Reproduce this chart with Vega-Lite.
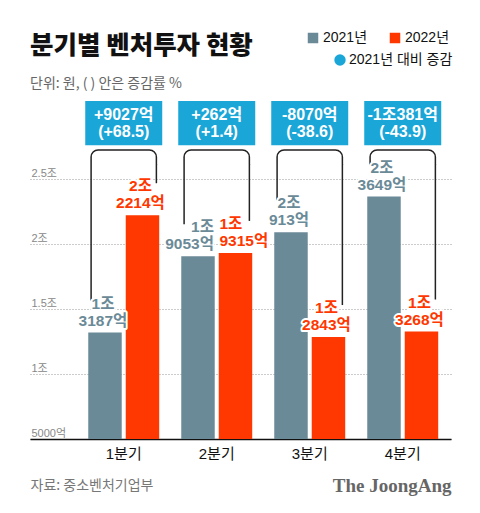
{
  "$schema": "https://vega.github.io/schema/vega-lite/v6.json",
  "width": 421,
  "height": 338,
  "autosize": "none",
  "padding": {"left": 30, "top": 101, "right": 29, "bottom": 74},
  "background": "white",
  "title": {
    "text": "분기별 벤처투자 현황",
    "subtitle": "단위: 원, ( ) 안은 증감률 %",
    "anchor": "start",
    "frame": "group",
    "font": "Noto Sans CJK KR",
    "fontSize": 25.5,
    "fontWeight": 900,
    "color": "#111111",
    "subtitleFont": "Noto Sans CJK KR",
    "subtitleFontSize": 14,
    "subtitleColor": "#666666",
    "subtitlePadding": 18,
    "offset": -60
  },
  "config": {
    "view": {"stroke": null},
    "font": "Liberation Sans, Noto Sans CJK KR"
  },
  "datasets": {
    "bars": [
      {"quarter": "1분기", "year": "2021년", "value": 13187, "label": "1조\n3187억"},
      {"quarter": "1분기", "year": "2022년", "value": 22214, "label": "2조\n2214억"},
      {"quarter": "2분기", "year": "2021년", "value": 19053, "label": "1조\n9053억"},
      {"quarter": "2분기", "year": "2022년", "value": 19315, "label": "1조\n9315억"},
      {"quarter": "3분기", "year": "2021년", "value": 20913, "label": "2조\n913억"},
      {"quarter": "3분기", "year": "2022년", "value": 12843, "label": "1조\n2843억"},
      {"quarter": "4분기", "year": "2021년", "value": 23649, "label": "2조\n3649억"},
      {"quarter": "4분기", "year": "2022년", "value": 13268, "label": "1조\n3268억"}
    ],
    "changes": [
      {"quarter": "1분기", "kind": "2021년 대비 증감", "change": "+9027억\n(+68.5)"},
      {"quarter": "2분기", "kind": "2021년 대비 증감", "change": "+262억\n(+1.4)"},
      {"quarter": "3분기", "kind": "2021년 대비 증감", "change": "-8070억\n(-38.6)"},
      {"quarter": "4분기", "kind": "2021년 대비 증감", "change": "-1조381억\n(-43.9)"}
    ]
  },
  "layer": [
    {
      "data": {"name": "bars"},
      "mark": {"type": "bar"},
      "encoding": {
        "x": {
          "field": "quarter",
          "type": "nominal",
          "sort": ["1분기", "2분기", "3분기", "4분기"],
          "scale": {"paddingInner": 0.237, "paddingOuter": 0.382, "align": 0.82},
          "axis": {
            "title": "자료: 중소벤처기업부",
            "titleFont": "Noto Sans CJK KR",
            "titleFontSize": 14,
            "titleFontWeight": "normal",
            "titleColor": "#777777",
            "titleAnchor": "start",
            "titleAlign": "left",
            "titleBaseline": "middle",
            "titleX": 0,
            "titleY": 46,
            "labelAngle": 0,
            "labelFontSize": 15,
            "labelColor": "#111111",
            "labelPadding": 7,
            "ticks": false,
            "domainColor": "#111111",
            "domainWidth": 1.5,
            "grid": false
          }
        },
        "xOffset": {
          "field": "year",
          "type": "nominal",
          "scale": {"paddingInner": 0.107, "paddingOuter": 0}
        },
        "y": {
          "field": "value",
          "type": "quantitative",
          "scale": {"domain": [5000, 31000], "nice": false, "zero": false},
          "axis": {
            "values": [5000, 10000, 15000, 20000, 25000],
            "labelExpr": "datum.value == 5000 ? '5000억' : (datum.value / 10000) + '조'",
            "labelAlign": "left",
            "labelBaseline": "alphabetic",
            "labelOffset": -3,
            "labelPadding": -1,
            "labelFontSize": 11,
            "labelColor": "#888888",
            "tickSize": 0,
            "ticks": false,
            "domain": false,
            "grid": true,
            "gridDash": [1, 2],
            "gridColor": "#999999",
            "title": "The JoongAng",
            "titleFont": "Liberation Serif",
            "titleFontSize": 19,
            "titleFontWeight": "bold",
            "titleColor": "#666666",
            "titleAngle": 0,
            "titleAlign": "right",
            "titleBaseline": "middle",
            "titleX": 421,
            "titleY": 384
          }
        },
        "y2": {"datum": 5000, "type": "quantitative"},
        "color": {
          "field": "year",
          "type": "nominal",
          "scale": {"domain": ["2021년", "2022년"], "range": ["#6b8a97", "#ff3700"]},
          "legend": {
            "title": null,
            "orient": "none",
            "direction": "horizontal",
            "legendX": 276,
            "legendY": -70,
            "symbolType": "square",
            "symbolSize": 110,
            "symbolStrokeWidth": 0,
            "labelFontSize": 14,
            "labelColor": "#111111",
            "labelOffset": 3,
            "columnPadding": 20,
            "padding": 0
          }
        }
      }
    },
    {
      "data": {"name": "changes"},
      "mark": {
        "type": "bar",
        "fillOpacity": 0,
        "stroke": "#222222",
        "strokeWidth": 1.5,
        "cornerRadiusTopLeft": 7,
        "cornerRadiusTopRight": 7,
        "strokeDash": [69.3, 65.3, 19, 1],
        "width": {"band": 0.92}
      },
      "encoding": {
        "x": {"field": "quarter", "type": "nominal"},
        "y": {"datum": 27230, "type": "quantitative"},
        "y2": {"datum": 26154, "type": "quantitative"}
      }
    },
    {
      "data": {"name": "bars"},
      "transform": [{"filter": "datum.year == '2021년'"}],
      "mark": {"type": "rule", "stroke": "#222222", "strokeWidth": 1.5, "yOffset": -32},
      "encoding": {
        "x": {"field": "quarter", "type": "nominal", "bandPosition": 0.04},
        "y": {"field": "value", "type": "quantitative"},
        "y2": {"datum": 26154, "type": "quantitative"}
      }
    },
    {
      "data": {"name": "bars"},
      "transform": [{"filter": "datum.year == '2022년'"}],
      "mark": {"type": "rule", "stroke": "#222222", "strokeWidth": 1.5, "yOffset": -32},
      "encoding": {
        "x": {"field": "quarter", "type": "nominal", "bandPosition": 0.96},
        "y": {"field": "value", "type": "quantitative"},
        "y2": {"datum": 26154, "type": "quantitative"}
      }
    },
    {
      "data": {"name": "bars"},
      "mark": {
        "type": "text",
        "baseline": "bottom",
        "dy": -21,
        "lineBreak": "\n",
        "lineHeight": 17,
        "fontSize": 15.5,
        "fontWeight": "bold",
        "fill": "white",
        "stroke": "white",
        "strokeWidth": 4,
        "strokeJoin": "round",
        "align": {"expr": "datum.quarter == '2분기' ? (datum.year == '2021년' ? 'right' : 'left') : 'center'"},
        "dx": {"expr": "datum.quarter == '2분기' ? (datum.year == '2021년' ? 16 : -16) : -2"}
      },
      "encoding": {
        "x": {"field": "quarter", "type": "nominal"},
        "xOffset": {"field": "year", "type": "nominal"},
        "y": {"field": "value", "type": "quantitative"},
        "text": {"field": "label", "type": "nominal"}
      }
    },
    {
      "data": {"name": "bars"},
      "mark": {
        "type": "text",
        "baseline": "bottom",
        "dy": -21,
        "lineBreak": "\n",
        "lineHeight": 17,
        "fontSize": 15.5,
        "fontWeight": "bold",
        "align": {"expr": "datum.quarter == '2분기' ? (datum.year == '2021년' ? 'right' : 'left') : 'center'"},
        "dx": {"expr": "datum.quarter == '2분기' ? (datum.year == '2021년' ? 16 : -16) : -2"}
      },
      "encoding": {
        "x": {"field": "quarter", "type": "nominal"},
        "xOffset": {"field": "year", "type": "nominal"},
        "y": {"field": "value", "type": "quantitative"},
        "text": {"field": "label", "type": "nominal"},
        "color": {"field": "year", "type": "nominal"}
      }
    },
    {
      "data": {"name": "changes"},
      "mark": {"type": "bar", "width": {"band": 1.085}},
      "encoding": {
        "x": {"field": "quarter", "type": "nominal"},
        "y": {"datum": 31000, "type": "quantitative"},
        "y2": {"datum": 27600, "type": "quantitative"},
        "fill": {
          "field": "kind",
          "type": "nominal",
          "scale": {"range": ["#1ba6d8"]},
          "legend": {
            "title": null,
            "orient": "none",
            "legendX": 303,
            "legendY": -48,
            "symbolType": "circle",
            "symbolSize": 130,
            "symbolStrokeWidth": 0,
            "labelFontSize": 14,
            "labelColor": "#111111",
            "labelOffset": 2,
            "padding": 0
          }
        }
      }
    },
    {
      "data": {"name": "changes"},
      "mark": {
        "type": "text",
        "color": "white",
        "fontSize": 16,
        "fontWeight": "bold",
        "lineBreak": "\n",
        "lineHeight": 17,
        "baseline": "middle",
        "dy": -8
      },
      "encoding": {
        "x": {"field": "quarter", "type": "nominal"},
        "y": {"datum": 29300, "type": "quantitative"},
        "text": {"field": "change", "type": "nominal"}
      }
    }
  ]
}
